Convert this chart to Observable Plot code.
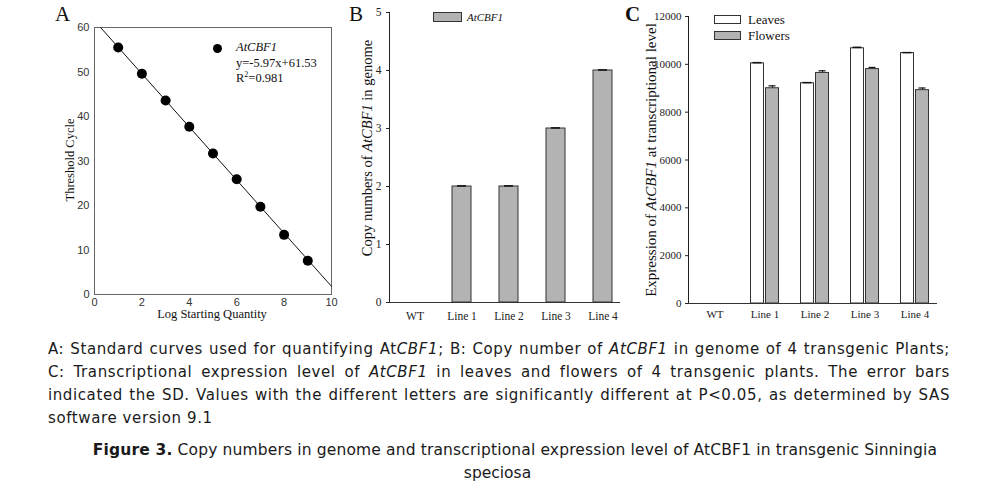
<!DOCTYPE html>
<html>
<head>
<meta charset="utf-8">
<script src="https://cdn.jsdelivr.net/npm/d3@7"></script>
<script src="https://cdn.jsdelivr.net/npm/@observablehq/plot@0.6"></script>
<style>
  html, body { margin: 0; padding: 0; background: #fff; }
  #root { position: relative; width: 995px; height: 492px; overflow: hidden; }
  .panel { position: absolute; top: 0; }
  .lbl { position: absolute; font-family: "Liberation Serif", serif; color: #111; line-height: 1; white-space: nowrap; }
  .sw { position: absolute; border: 1px solid #333; box-sizing: border-box; }
  .cap { position: absolute; left: 48px; width: 902px; font-family: "DejaVu Sans", sans-serif;
         font-size: 15px; letter-spacing: 0.6px; color: #1a1a1a; line-height: 23px; white-space: nowrap; }
  .just { text-align: justify; text-align-last: justify; white-space: normal; }
</style>
</head>
<body>
<div id="root"></div>
<script>
// ---------- Data ----------
// Panel A: standard curve
const logQuantity = [1, 2, 3, 4, 5, 6, 7, 8, 9];
const thresholdCycle = [55.5, 49.6, 43.6, 37.7, 31.7, 25.9, 19.7, 13.4, 7.6];
const fitSlope = -5.97;
const fitIntercept = 61.53;
const fitR2 = 0.981;
// Panel B: copy numbers
const lines = ["WT", "Line 1", "Line 2", "Line 3", "Line 4"];
const copyNumbers = [0, 2, 2, 3, 4];
const copyErr = [0, 0.01, 0.01, 0.01, 0.01];
// Panel C: expression
const leaves = [0, 10040, 9210, 10670, 10470];
const leavesErr = [0, 30, 25, 40, 20];
const flowers = [0, 9000, 9640, 9800, 8920];
const flowersErr = [0, 100, 90, 70, 90];
const ticksA_x = [0, 2, 4, 6, 8, 10];
const ticksA_y = [0, 10, 20, 30, 40, 50, 60];
const ticksB_y = [0, 1, 2, 3, 4, 5];
const ticksC_y = [0, 2000, 4000, 6000, 8000, 10000, 12000];

const root = document.getElementById("root");
function place(node, left) {
  const d = document.createElement("div");
  d.className = "panel";
  d.style.left = left + "px";
  d.appendChild(node);
  root.appendChild(d);
}
function label(html, left, top, size, extra) {
  const d = document.createElement("div");
  d.className = "lbl";
  d.style.left = left + "px";
  d.style.top = top + "px";
  d.style.fontSize = size + "px";
  if (extra) Object.assign(d.style, extra);
  d.innerHTML = html;
  root.appendChild(d);
  return d;
}
function swatch(left, top, w, h, fill) {
  const d = document.createElement("div");
  d.className = "sw";
  Object.assign(d.style, {left: left + "px", top: top + "px", width: w + "px", height: h + "px", background: fill});
  root.appendChild(d);
}

// ---------- Panel A ----------
const ptsA = logQuantity.map((x, i) => ({x, y: thresholdCycle[i]}));
const xStart = (fitIntercept - 60) / (-fitSlope);
const fitLine = [xStart, 10].map(x => ({x, y: fitSlope * x + fitIntercept}));
const plotA = Plot.plot({
  width: 340, height: 330,
  marginLeft: 94, marginRight: 9, marginTop: 27, marginBottom: 36,
  style: {fontFamily: "Liberation Sans, sans-serif", fontSize: "11px", color: "#333", background: "transparent"},
  x: {domain: [0, 10], ticks: ticksA_x, tickSize: 0, tickPadding: 4, label: null},
  y: {domain: [0, 60], ticks: ticksA_y, tickSize: 0, tickPadding: 5, label: null},
  marks: [
    Plot.frame({stroke: "#666"}),
    Plot.line(fitLine, {x: "x", y: "y", stroke: "#111", strokeWidth: 1}),
    Plot.dot(ptsA, {x: "x", y: "y", r: 5, fill: "#000", stroke: "none"}),
    Plot.dot([0], {frameAnchor: "top-left", dx: 123, dy: 21, r: 4.5, fill: "#000", stroke: "none"})
  ]
});
place(plotA, 0);
label("A", 55, 4, 21);
label("<i>AtCBF1</i>", 236, 41, 12.5);
label("y=" + fitSlope + "x+" + fitIntercept, 236, 57, 12.5);
label("R<sup style='font-size:8px'>2</sup>=" + fitR2, 236, 71, 12.5);
label("Threshold Cycle", 70, 160, 12.5, {transform: "translate(-50%,-50%) rotate(-90deg)"});
label("Log Starting Quantity", 212, 314, 12.5, {transform: "translate(-50%,-50%)"});

// ---------- Panel B ----------
const dataB = lines.map((c, i) => ({c, v: copyNumbers[i], e: copyErr[i]}));
const plotB = Plot.plot({
  width: 300, height: 330,
  marginLeft: 59, marginRight: 10, marginTop: 12, marginBottom: 28,
  style: {fontFamily: "Liberation Serif, serif", fontSize: "11.5px", color: "#222", background: "transparent"},
  x: {domain: lines, range: [389 - 330, 627 - 330], paddingInner: 0.6, paddingOuter: 0.3, tickSize: 0, tickPadding: 9, label: null},
  y: {domain: [0, 5], ticks: ticksB_y, tickFormat: d3.format("d"), tickSize: 3, tickPadding: 5, label: null, line: true},
  marks: [
    Plot.barY(dataB.filter(d => d.v > 0), {x: "c", y: "v", fill: "#b3b3b3", stroke: "#333", strokeWidth: 1}),
    Plot.tickY(dataB.filter(d => d.v > 0), {x: "c", y: d => d.v + d.e, stroke: "#111", strokeWidth: 1.6, inset: 5}),
    Plot.ruleY([0], {stroke: "#333"})
  ]
});
place(plotB, 330);
label("B", 349, 4, 21);
swatch(433, 12, 29, 10, "#b3b3b3");
label("<i>AtCBF1</i>", 467, 12, 11);
label("Copy numbers of <i>AtCBF1</i> in genome", 367, 148, 14.5, {transform: "translate(-50%,-50%) rotate(-90deg)"});

// ---------- Panel C ----------
const dataC = lines.map((c, i) => ({c, l: leaves[i], le: leavesErr[i], f: flowers[i], fe: flowersErr[i]})).filter(d => d.l > 0);
const plotC = Plot.plot({
  width: 375, height: 330,
  marginLeft: 68, marginRight: 58, marginTop: 16, marginBottom: 27,
  style: {fontFamily: "Liberation Serif, serif", fontSize: "11px", color: "#222", background: "transparent"},
  x: {domain: lines, range: [688 - 620, 940 - 620], paddingInner: 0.742, paddingOuter: 0.371, tickSize: 0, tickPadding: 7, label: null},
  y: {domain: [0, 12000], ticks: ticksC_y, tickFormat: d3.format("d"), tickSize: 3, tickPadding: 4, label: null, line: true},
  marks: [
    Plot.ruleX(dataC, {x: "c", y1: "l", y2: d => d.l + d.le, dx: -7.5, stroke: "#111"}),
    Plot.ruleX(dataC, {x: "c", y1: "f", y2: d => d.f + d.fe, dx: 7.5, stroke: "#111"}),
    Plot.barY(dataC, {x: "c", y: "l", dx: -7.5, fill: "#fff", stroke: "#333", strokeWidth: 1}),
    Plot.barY(dataC, {x: "c", y: "f", dx: 7.5, fill: "#b3b3b3", stroke: "#333", strokeWidth: 1}),
    Plot.tickY(dataC, {x: "c", y: d => d.l + d.le, dx: -7.5, stroke: "#111", strokeWidth: 1.5, inset: 2}),
    Plot.tickY(dataC, {x: "c", y: d => d.f + d.fe, dx: 7.5, stroke: "#111", strokeWidth: 1.2, inset: 3}),
    Plot.ruleY([0], {stroke: "#333"})
  ]
});
place(plotC, 620);
label("<b>C</b>", 625, 4, 21);
swatch(714, 15, 27, 9, "#fff");
label("Leaves", 748, 13, 13);
swatch(714, 31, 27, 9, "#b3b3b3");
label("Flowers", 748, 29, 13);
label("Expression of <i>AtCBF1</i> at transcriptional level", 651, 160, 15, {transform: "translate(-50%,-50%) rotate(-90deg)"});

// ---------- Caption ----------
const capLines = [
  "A: Standard curves used for quantifying At<i>CBF1</i>; B: Copy number of <i>AtCBF1</i> in genome of 4 transgenic Plants;",
  "C: Transcriptional expression level of <i>AtCBF1</i> in leaves and flowers of 4 transgenic plants. The error bars",
  "indicated the SD. Values with the different letters are significantly different at P&lt;0.05, as determined by SAS",
  "software version 9.1"
];
capLines.forEach((t, i) => {
  const d = document.createElement("div");
  d.className = "cap" + (i < 3 ? " just" : "");
  d.style.top = (338 + i * 23) + "px";
  d.innerHTML = t;
  root.appendChild(d);
});
const fig = document.createElement("div");
fig.className = "cap";
Object.assign(fig.style, {top: "439px", textAlign: "center", left: "0px", width: "1030px", letterSpacing: "0.15px", fontSize: "15.5px"});
fig.innerHTML = "<b>Figure 3.</b> Copy numbers in genome and transcriptional expression level of AtCBF1 in transgenic Sinningia";
root.appendChild(fig);
const fig2 = document.createElement("div");
fig2.className = "cap";
Object.assign(fig2.style, {top: "462px", textAlign: "center", left: "0px", width: "995px", letterSpacing: "0px", fontSize: "15.5px"});
fig2.textContent = "speciosa";
root.appendChild(fig2);
</script>
</body>
</html>
